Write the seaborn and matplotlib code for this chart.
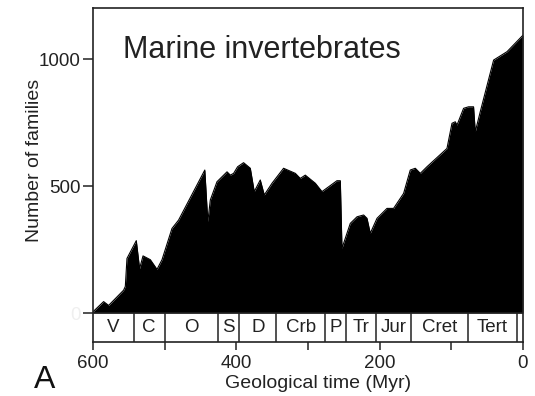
import numpy as np
import pandas as pd
import matplotlib
matplotlib.use("Agg")
import matplotlib.pyplot as plt
import seaborn as sns

# ---- data ----
time_myr = [600, 585.2, 578.2, 557.3, 554.9, 552.6, 539.6, 535.0, 530.2, 520.0,
            510.7, 503.7, 489.8, 480.6, 444.0, 439.8, 436.3, 427.0, 413.0, 408.4,
            403.8, 398.2, 389.9, 380.5, 375.0, 366.6, 361.0, 350.2, 334.1, 317.7,
            310.8, 303.8, 289.8, 280.5, 259.6, 254.9, 252.6, 241.0, 231.6, 222.4,
            217.7, 213.1, 203.7, 189.8, 180.6, 166.6, 157.3, 150.3, 143.3, 134.0,
            106.1, 99.1, 94.5, 92.1, 82.9, 76.0, 69.0, 66.6, 59.6, 41.0,
            22.3, 0]
families = [5, 45, 30, 90, 105, 215, 285, 175, 225, 210,
            172, 210, 333, 366, 563, 360, 445, 517, 556, 543,
            550, 576, 592, 570, 478, 524, 465, 511, 570, 550,
            530, 543, 511, 478, 521, 521, 255, 353, 379, 386,
            373, 314, 373, 412, 412, 471, 563, 570, 550, 576,
            648, 747, 753, 740, 806, 812, 812, 714, 793, 996,
            1029, 1094]

period_names = ["V", "C", "O", "S", "D", "Crb", "P", "Tr", "Jur", "Cret", "Tert", ""]
period_bounds = [600, 543.4, 500.0, 426.0, 395.9, 344.2, 275.9, 246.6, 204.7, 156.3, 77.3, 8.4, 0]

x_major = [600, 400, 200, 0]
x_minor = [500, 300, 100]
y_ticks = [0, 500, 1000]
y_ticklabels = ["0", "500", "1000"]

df = pd.DataFrame({"time": time_myr, "families": families})

# ---- figure ----
sns.set_theme(style="ticks")
plt.rcParams["font.family"] = ["Liberation Sans", "DejaVu Sans"]
txt = "#222222"

fig = plt.figure(figsize=(5.35, 3.96), dpi=100)
ax = fig.add_axes([93 / 535, 54 / 396, 430 / 535, 334 / 396])

ax.fill_between(df["time"], df["families"], 0, color="black", linewidth=0)
sns.lineplot(data=df, x="time", y="families", ax=ax, color="black",
             linewidth=0.8, sort=False)

ax.set_xlim(600, 0)
ax.set_ylim(-114, 1201)

# period band
ax.axhline(0, color="#222222", lw=1.1)
ax.vlines(period_bounds[1:-1], -114, 0, color="#222222", lw=1.1)
for i, name in enumerate(period_names):
    if not name:
        continue
    mid = (period_bounds[i] + period_bounds[i + 1]) / 2
    ax.text(mid, -57, name, ha="center", va="center", fontsize=13.5, color=txt)

# ticks
ax.set_xticks(x_major)
ax.set_xticks(x_minor, minor=True)
ax.set_xticklabels([str(v) for v in x_major], fontsize=13.5, color=txt)
ax.set_yticks(y_ticks)
ax.set_yticklabels(y_ticklabels, fontsize=13.5, color=txt)
ax.get_yticklabels()[0].set_color("#efefef")
ax.tick_params(axis="x", which="both", direction="out", length=6, width=1.1,
               color="#222222", pad=3)
ax.tick_params(axis="y", which="major", direction="out", length=7, width=1.1,
               color="#222222", pad=2)
for s in ax.spines.values():
    s.set_linewidth(1.2)
    s.set_color("#222222")

ax.set_xlabel("Geological time (Myr)", fontsize=14, color=txt, va="top")
ax.xaxis.set_label_coords(0.524, -0.1)
ax.set_ylabel("Number of families", fontsize=14, color=txt, va="center")
ax.yaxis.set_label_coords(-0.137, 0.543)

ax.text(0.07, 0.849, "Marine invertebrates", transform=ax.transAxes,
        fontsize=22, color=txt, ha="left", va="baseline")

fig.text(34 / 535, 0.002, "A", fontsize=23, color="#111111", ha="left", va="bottom")

fig.savefig("out.png", dpi=100, facecolor="white")
